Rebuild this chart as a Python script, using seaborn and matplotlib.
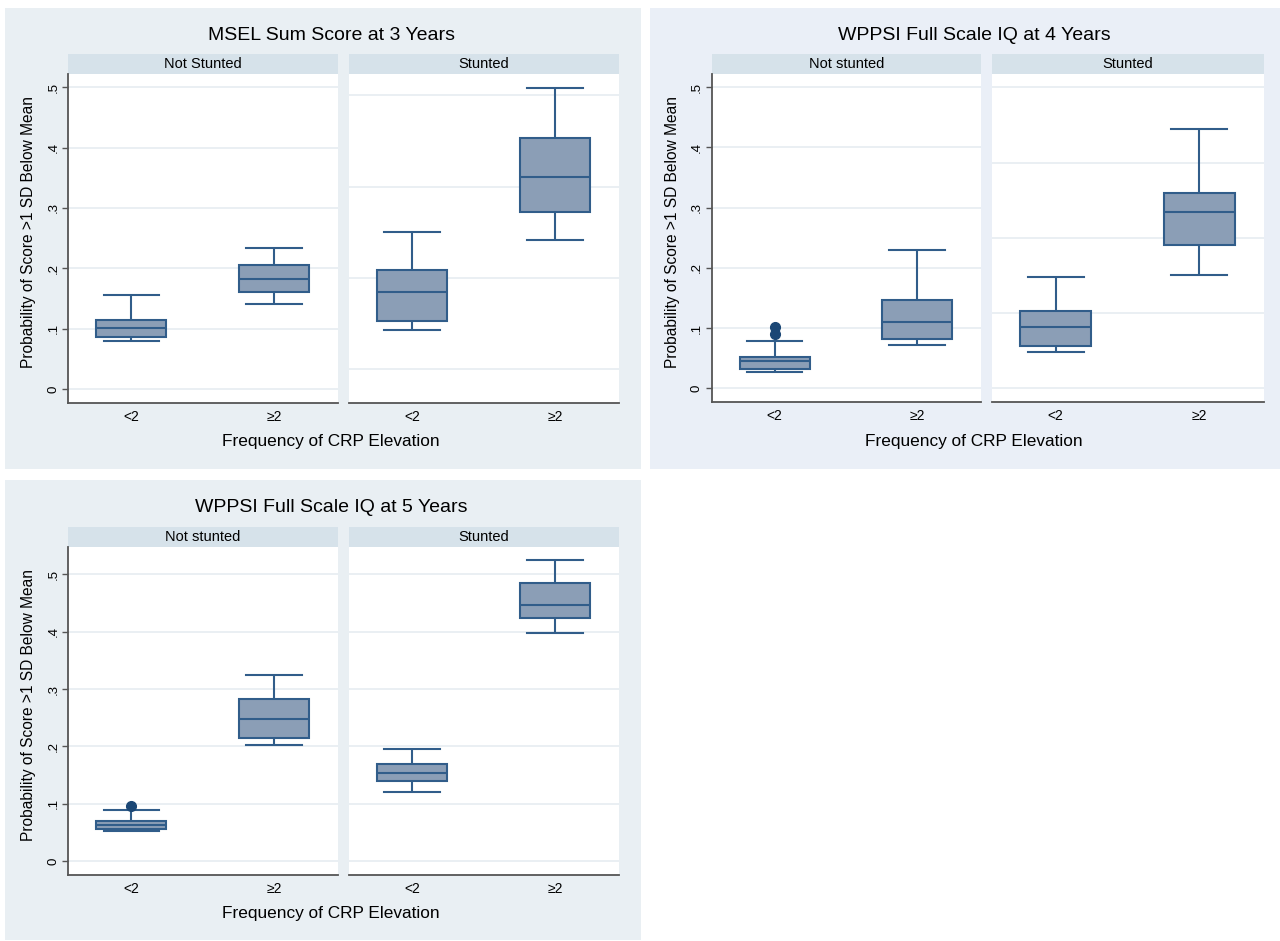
import numpy as np
import pandas as pd
import matplotlib
matplotlib.use('Agg')
import matplotlib.pyplot as plt
import seaborn as sns
from matplotlib.patches import Rectangle

###############################################################################
### Data (per group: whisker low, quartiles, median, whisker high, outliers)
crp_levels = ['<2', '≥2']

# MSEL sum score at 3 years
msel3_notstunted_lt2 = [0.079, 0.086, 0.101, 0.115, 0.156]
msel3_notstunted_ge2 = [0.141, 0.161, 0.182, 0.205, 0.233]
msel3_stunted_lt2 = [0.097, 0.113, 0.161, 0.197, 0.260]
msel3_stunted_ge2 = [0.247, 0.293, 0.352, 0.416, 0.499]

# WPPSI full scale IQ at 4 years
wppsi4_notstunted_lt2 = [0.028, 0.030, 0.032, 0.033, 0.038, 0.042, 0.045,
                         0.048, 0.051, 0.053, 0.079, 0.090, 0.102]
wppsi4_notstunted_ge2 = [0.072, 0.082, 0.111, 0.147, 0.230]
wppsi4_stunted_lt2 = [0.061, 0.071, 0.102, 0.129, 0.185]
wppsi4_stunted_ge2 = [0.189, 0.238, 0.293, 0.324, 0.431]

# WPPSI full scale IQ at 5 years
wppsi5_notstunted_lt2 = [0.052, 0.055, 0.057, 0.060, 0.063, 0.067, 0.071, 0.090, 0.096]
wppsi5_notstunted_ge2 = [0.203, 0.214, 0.247, 0.283, 0.325]
wppsi5_stunted_lt2 = [0.120, 0.139, 0.154, 0.170, 0.195]
wppsi5_stunted_ge2 = [0.398, 0.423, 0.446, 0.484, 0.525]

y_ticks = [0, 0.1, 0.2, 0.3, 0.4, 0.5]
y_ticklabels = ['0', '.1', '.2', '.3', '.4', '.5']

###############################################################################
### Style
plt.rcParams['font.family'] = ['Liberation Sans', 'DejaVu Sans']
box_fill = '#8b9eb6'
box_edge = '#315d8a'
out_col = '#1b4775'
strip_col = '#d6e2ea'
grid_col = '#e4ebf0'
axis_col = '#555555'

W, H = 1280, 941
fig = plt.figure(figsize=(W / 100, H / 100), dpi=100, facecolor='white')


def fig_rect(x0, y0, x1, y1):
    return [x0 / W, 1 - y1 / H, (x1 - x0) / W, (y1 - y0) / H]


def make_df(lt2, ge2):
    return pd.DataFrame({'crp': ['<2'] * len(lt2) + ['≥2'] * len(ge2),
                         'prob': lt2 + ge2})


def draw_graph(title, panels, bg, bg_col, xs, top, bottom, ylim, grids,
               title_y, xlabel_y, cx, ylabel_x):
    # background of this graph, behind the axes
    fig.patches.append(Rectangle((bg[0] / W, 1 - bg[3] / H), (bg[2] - bg[0]) / W,
                                 (bg[3] - bg[1]) / H, transform=fig.transFigure,
                                 facecolor=bg_col, edgecolor='none', zorder=-5))
    strip_h = 19.7
    for i, (name, df) in enumerate(panels):
        ax = fig.add_axes(fig_rect(xs[i][0], top, xs[i][1], bottom))
        ax.set_facecolor('white')
        for g in grids[i]:
            ax.axhline(g, color=grid_col, lw=1.1, zorder=0)
        sns.boxplot(data=df, x='crp', y='prob', order=crp_levels, ax=ax,
                    color=box_fill, linecolor=box_edge, saturation=1,
                    width=0.49, linewidth=1.5, capwidths=0.39, fliersize=7,
                    flierprops=dict(marker='o', markerfacecolor=out_col,
                                    markeredgecolor=out_col))
        ax.set_xlim(-0.443, 1.449)
        ax.set_ylim(*ylim)
        ax.set_xlabel('')
        ax.set_ylabel('')
        for s in ['top', 'right']:
            ax.spines[s].set_visible(False)
        ax.spines['bottom'].set_color(axis_col)
        ax.spines['bottom'].set_linewidth(1.3)
        ax.tick_params(axis='x', length=0, pad=5, labelsize=10)
        if i == 0:
            ax.spines['left'].set_color(axis_col)
            ax.spines['left'].set_linewidth(1.3)
            ax.set_yticks(y_ticks)
            ax.set_yticklabels(y_ticklabels, rotation=90, va='center')
            ax.tick_params(axis='y', length=4, width=1, color=axis_col,
                           pad=2.3, labelsize=9.5)
        else:
            ax.spines['left'].set_visible(False)
            ax.set_yticks([])
        # strip header
        ax_h = bottom - top
        ax.add_patch(Rectangle((0, 1), 1, strip_h / ax_h, transform=ax.transAxes,
                               facecolor=strip_col, edgecolor='none', clip_on=False))
        ax.text(0.5, 1 + strip_h / ax_h / 2, name, transform=ax.transAxes,
                ha='center', va='center', fontsize=10.5)
    fig.text(cx / W, 1 - title_y / H, title, ha='center', va='center', fontsize=14)
    fig.text(cx / W, 1 - xlabel_y / H, 'Frequency of CRP Elevation',
             ha='center', va='center', fontsize=12.4)
    fig.text(ylabel_x / W, 1 - ((top + bottom) / 2 - 6) / H,
             'Probability of Score >1 SD Below Mean', rotation=90,
             ha='center', va='center', fontsize=11.2)


no_grid = list(y_ticks)

draw_graph('MSEL Sum Score at 3 Years',
           [('Not Stunted', make_df(msel3_notstunted_lt2, msel3_notstunted_ge2)),
            ('Stunted', make_df(msel3_stunted_lt2, msel3_stunted_ge2))],
           (5, 8, 641, 469), '#e9eff3', [(68.2, 338), (349, 619)], 74, 402.7,
           (-0.0227, 0.522), [no_grid, [0.033, 0.184, 0.335, 0.487]],
           35, 441.7, 331, 28.6)

draw_graph('WPPSI Full Scale IQ at 4 Years',
           [('Not stunted', make_df(wppsi4_notstunted_lt2, wppsi4_notstunted_ge2)),
            ('Stunted', make_df(wppsi4_stunted_lt2, wppsi4_stunted_ge2))],
           (650, 8, 1280, 469), '#eaeff7', [(711.5, 981), (992, 1264)], 74, 402.3,
           (-0.023, 0.522), [no_grid, [0, 0.125, 0.25, 0.375, 0.5]],
           35, 441.7, 974, 673)

draw_graph('WPPSI Full Scale IQ at 5 Years',
           [('Not stunted', make_df(wppsi5_notstunted_lt2, wppsi5_notstunted_ge2)),
            ('Stunted', make_df(wppsi5_stunted_lt2, wppsi5_stunted_ge2))],
           (5, 480, 641, 940), '#e9eff3', [(68.2, 338), (349, 619)], 546.7, 875.3,
           (-0.0244, 0.548), [no_grid, no_grid],
           508, 913.7, 331, 28.6)

fig.savefig('out.png', dpi=100, facecolor='white')
